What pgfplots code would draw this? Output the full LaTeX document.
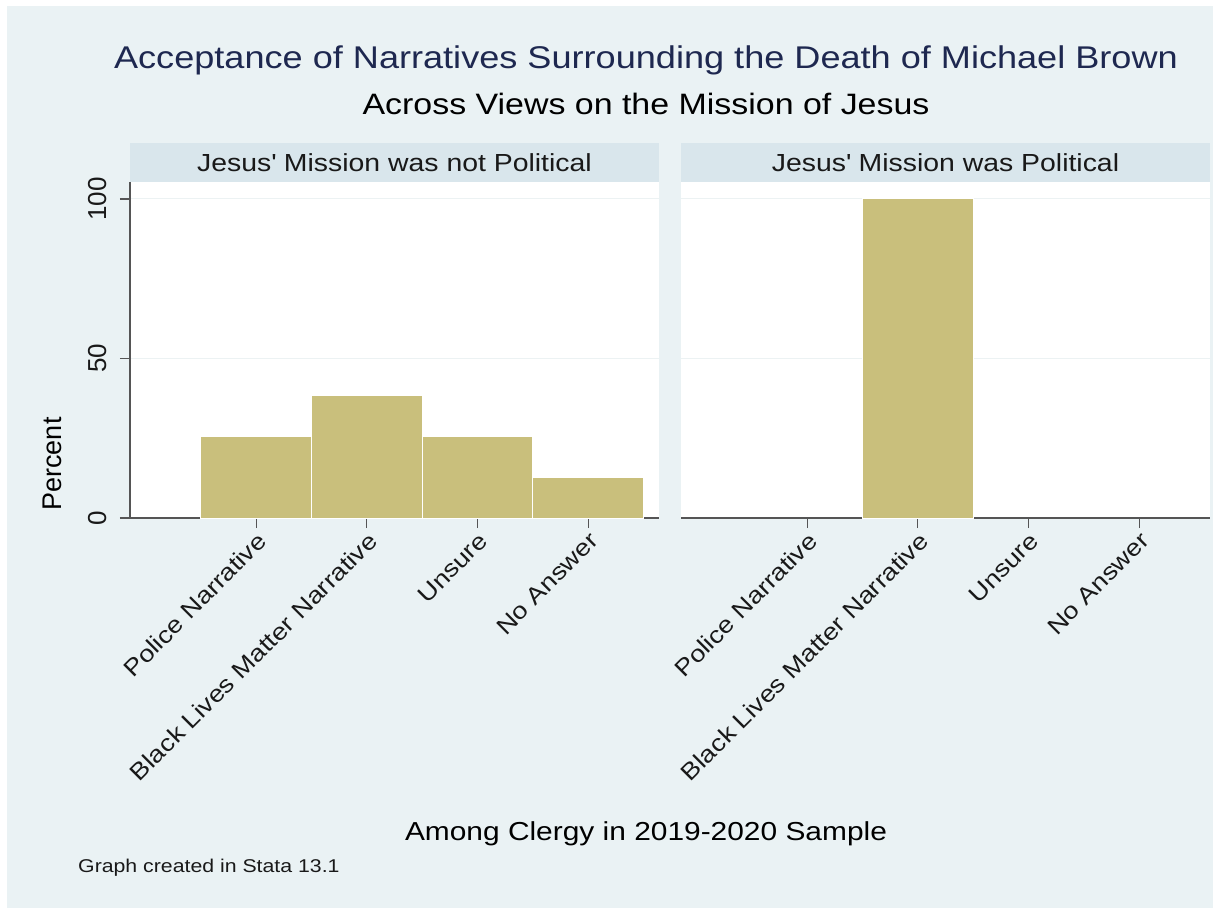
\documentclass[border=0pt]{standalone}
\usepackage{fontspec}
\setmainfont{Liberation Sans}[FakeStretch=1.15]
\newfontfamily\plainsans{Liberation Sans}
\usepackage{pgfplots}
\pgfplotsset{compat=1.18}

\definecolor{bgblue}{RGB}{234,242,244}
\definecolor{stripblue}{RGB}{217,230,236}
\definecolor{barkhaki}{RGB}{201,191,124}
\definecolor{titlenavy}{RGB}{30,40,80}
\definecolor{axisgray}{RGB}{85,85,85}
\definecolor{gridc}{RGB}{236,242,243}
\definecolor{txt}{RGB}{25,25,25}

\pgfplotsset{
  panel/.style={
    scale only axis, width=529pt, height=336pt,
    xmin=-0.14, xmax=4.64, ymin=0, ymax=105.3,
    axis background/.style={fill=white},
    axis x line*=bottom, axis y line*=left,
    axis line style={-, axisgray, line width=1.3pt},
    tick style={axisgray, line width=1.3pt},
    tick align=outside, major tick length=10pt,
    /pgf/number format/assume math mode=true,
    xtick={1,2,3,4},
    xticklabels={Police Narrative, Black Lives Matter Narrative, Unsure, No Answer},
    x tick label style={rotate=45, anchor=north east, text=txt,
      font=\fontsize{23.5}{27}\selectfont, inner sep=2pt},
    ytick={0,50,100},
    ymajorgrids, grid style={gridc, line width=1pt},
    ybar, bar width=1,
    clip=false,
  },
}

\begin{document}
\begin{tikzpicture}[x=1pt,y=1pt]
  % page and graph region
  \fill[white] (0,0) rectangle (1219,-911);
  \fill[bgblue] (7,-6) rectangle (1213,-908);

  % panel header strips
  \fill[stripblue] (130,-143) rectangle (659,-182);
  \fill[stripblue] (681,-143) rectangle (1210,-182);
  \node[font=\fontsize{24.7}{28}\selectfont, text=txt] at (394.5,-162.5)
    {Jesus\textquotesingle{} Mission was not Political};
  \node[font=\fontsize{24.7}{28}\selectfont, text=txt] at (945.5,-162.5)
    {Jesus\textquotesingle{} Mission was Political};

  % left panel
  \begin{axis}[panel, at={(130pt,-518pt)}, anchor=south west,
      yticklabel shift=10pt,
      y tick label style={rotate=90, anchor=south, text=txt,
        font=\plainsans\fontsize{26}{28}\selectfont}]
    \addplot[fill=barkhaki, draw=white, line width=1pt]
      coordinates {(1,25.64) (2,38.46) (3,25.64) (4,12.82)};
  \end{axis}

  % right panel
  \begin{axis}[panel, at={(681pt,-518pt)}, anchor=south west,
      y axis line style={draw=none}, yticklabels={},
      major y tick style={draw=none}]
    \addplot[fill=barkhaki, draw=white, line width=1pt]
      coordinates {(2,100)};
  \end{axis}

  % titles and notes
  \node[anchor=base, font=\fontsize{31.4}{36}\selectfont, text=titlenavy] at (646,-68)
    {Acceptance of Narratives Surrounding the Death of Michael Brown};
  \node[anchor=base, font=\fontsize{29.5}{34}\selectfont, text=black] at (646,-114)
    {Across Views on the Mission of Jesus};
  \node[rotate=90, font=\plainsans\fontsize{27}{30}\selectfont, text=black] at (52,-464)
    {Percent};
  \node[anchor=base, font=\fontsize{26}{30}\selectfont, text=black] at (646,-840)
    {Among Clergy in 2019-2020 Sample};
  \node[anchor=base west, inner sep=0pt, font=\fontsize{18.5}{22}\selectfont, text=txt] at (78,-872)
    {Graph created in Stata 13.1};
\end{tikzpicture}
\end{document}
